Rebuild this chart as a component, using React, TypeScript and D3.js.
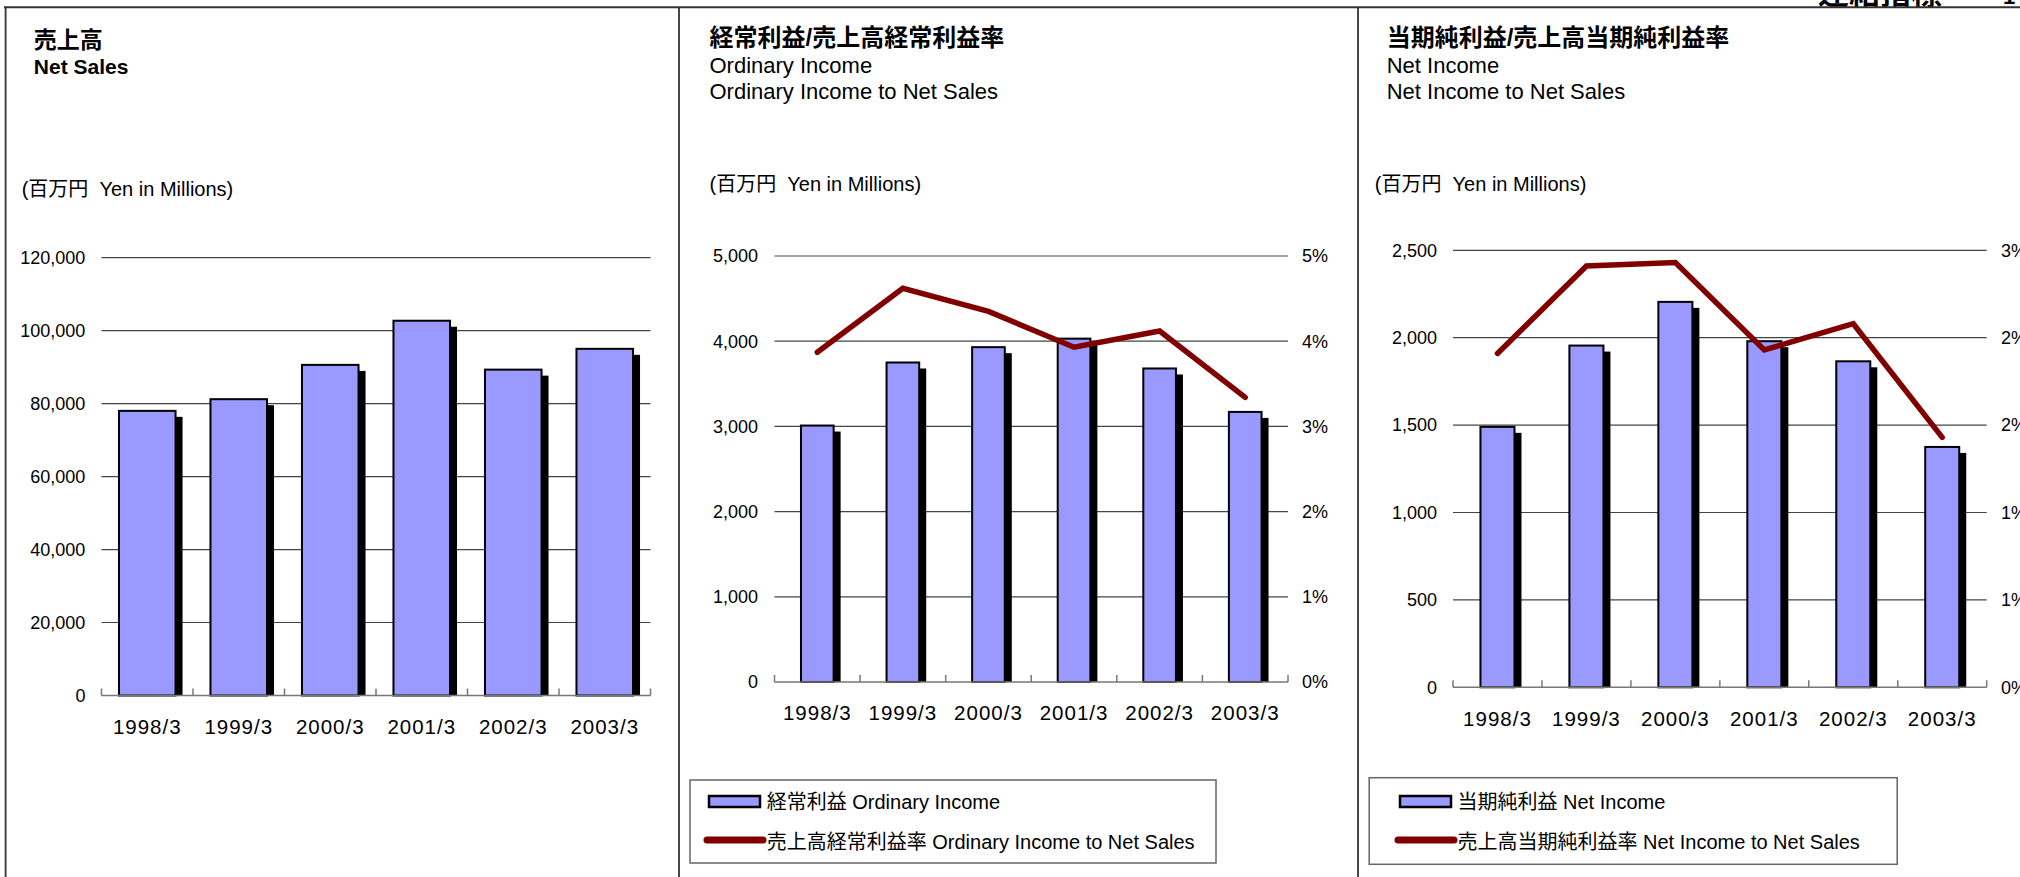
import React from "react";
import * as d3 from "d3";

const categories = ["1998/3", "1999/3", "2000/3", "2001/3", "2002/3", "2003/3"];
const netSales = [78000, 81200, 90600, 102700, 89300, 95000];
const ordinaryIncome = [3010, 3750, 3930, 4030, 3680, 3170];
const ordinaryRatio = [3.87, 4.62, 4.35, 3.93, 4.12, 3.34];
const netIncome = [1490, 1955, 2205, 1980, 1865, 1375];
const netRatio = [1.91, 2.41, 2.43, 1.93, 2.08, 1.43];

const salesTicks = [0, 20000, 40000, 60000, 80000, 100000, 120000];
const ordinaryTicks = [0, 1000, 2000, 3000, 4000, 5000];
const ordinaryRatioTicks = [0, 1, 2, 3, 4, 5];
const netTicks = [0, 500, 1000, 1500, 2000, 2500];
const netRatioTicks = [0, 0.5, 1, 1.5, 2, 2.5];

const FONT = "'Liberation Sans', Arial, 'Noto Sans CJK JP', sans-serif";
const BAR = "#9999FF";
const LINE = "#800000";

type PanelProps = {
  x0: number; x1: number; yTop: number; yBottom: number;
  leftLabelX: number; rightLabelX?: number; catBaseline: number; barRatio: number;
  ticks: number[]; values: number[];
  ratio?: number[]; ratioTicks?: number[];
};

function Panel(p: PanelProps) {
  const yMax = p.ticks[p.ticks.length - 1];
  const y = d3.scaleLinear().domain([0, yMax]).range([p.yBottom, p.yTop]);
  const x = d3.scaleBand<string>().domain(categories).range([p.x0, p.x1]).padding(0);
  const bw = x.bandwidth();
  const w = bw * p.barRatio;
  const cx = (c: string) => (x(c) as number) + bw / 2;
  const fmt = d3.format(",");
  let yr: d3.ScaleLinear<number, number> | null = null;
  let linePath: string | null = null;
  if (p.ratio && p.ratioTicks) {
    const rMax = p.ratioTicks[p.ratioTicks.length - 1];
    yr = d3.scaleLinear().domain([0, rMax]).range([p.yBottom, p.yTop]);
    const yrr = yr;
    linePath = d3.line<number>()
      .x((_, i) => cx(categories[i]))
      .y((d) => yrr(d))(p.ratio);
  }
  const boundaries = [...categories.map((c) => x(c) as number), p.x1];
  return (
    <g>
      {p.ticks.filter((t) => t > 0).map((t) => (
        <line key={"g" + t} x1={p.x0} x2={p.x1} y1={y(t)} y2={y(t)} stroke="#444" strokeWidth={1.2} />
      ))}
      {p.ticks.map((t) => (
        <text key={"l" + t} x={p.leftLabelX} y={y(t)} dy="0.35em" textAnchor="end" fontSize={18} fontFamily={FONT}>{fmt(t)}</text>
      ))}
      {yr && p.ratioTicks && p.ratioTicks.map((t) => (
        <text key={"r" + t} x={p.rightLabelX} y={(yr as any)(t)} dy="0.35em" textAnchor="start" fontSize={18} fontFamily={FONT}>{Math.round(t) + "%"}</text>
      ))}
      {categories.map((c, i) => (
        <rect key={"s" + c} x={cx(c) - w / 2 + 6} y={y(p.values[i]) + 6} width={w} height={p.yBottom - y(p.values[i]) - 6} fill="#000" />
      ))}
      {categories.map((c, i) => (
        <rect key={"b" + c} x={cx(c) - w / 2 + 1} y={y(p.values[i])} width={w - 2} height={p.yBottom - y(p.values[i])} fill={BAR} stroke="#000" strokeWidth={2} />
      ))}
      <line x1={p.x0} x2={p.x1} y1={p.yBottom} y2={p.yBottom} stroke="#777" strokeWidth={1.5} />
      {boundaries.map((b, i) => (
        <line key={"t" + i} x1={b} x2={b} y1={p.yBottom} y2={p.yBottom - 7} stroke="#777" strokeWidth={1.5} />
      ))}
      {categories.map((c) => (
        <text key={"c" + c} x={cx(c)} y={p.catBaseline} textAnchor="middle" fontSize={20.5} letterSpacing={1} fontFamily={FONT}>{c}</text>
      ))}
      {linePath && (
        <path d={linePath} fill="none" stroke={LINE} strokeWidth={5.5} strokeLinecap="round" strokeLinejoin="miter" />
      )}
    </g>
  );
}

function Legend(props: { x: number; y: number; w: number; h: number; sx: number; tx: number; barLabel: string; lineLabel: string }) {
  const { x, y, w, h, sx, tx } = props;
  return (
    <g fontFamily={FONT} fontSize={20}>
      <rect x={x} y={y} width={w} height={h} fill="#fff" stroke="#666" strokeWidth={1.5} />
      <rect x={sx + 2} y={796} width={51} height={11} fill={BAR} stroke="#000" strokeWidth={2.5} />
      <text x={tx} y={808.5}>{props.barLabel}</text>
      <line x1={sx} x2={sx + 56} y1={840} y2={840} stroke={LINE} strokeWidth={7} strokeLinecap="round" />
      <text x={tx} y={848.5}>{props.lineLabel}</text>
    </g>
  );
}

export default function App() {
  return (
    <svg width={2020} height={877} style={{ position: "absolute", left: 0, top: 0, background: "#fff" }}>
      <rect x={0} y={0} width={2020} height={877} fill="#fff" />
      {/* cut-off header text */}
      <text x={1818} y={3.5} fontSize={31} fontWeight="bold" fontFamily={FONT}>連結指標</text>
      <text x={2003} y={3.5} fontSize={22} fontWeight="bold" fontFamily={FONT}>1</text>
      {/* frame */}
      <line x1={4} x2={2020} y1={7.3} y2={7.3} stroke="#333" strokeWidth={2} />
      <line x1={5.6} x2={5.6} y1={7} y2={877} stroke="#333" strokeWidth={1.8} />
      <line x1={679} x2={679} y1={7} y2={877} stroke="#333" strokeWidth={1.8} />
      <line x1={1358} x2={1358} y1={7} y2={877} stroke="#333" strokeWidth={1.8} />

      {/* Panel 1 titles */}
      <text x={33.8} y={48} fontSize={23} fontWeight="bold" fontFamily={FONT}>売上高</text>
      <text x={33.8} y={74} fontSize={21} fontWeight="bold" fontFamily={FONT}>Net Sales</text>
      <text x={21.7} y={196} fontSize={20} fontFamily={FONT} xmlSpace="preserve">(百万円  Yen in Millions)</text>

      {/* Panel 2 titles */}
      <text x={709.5} y={46} fontSize={24} fontWeight="bold" fontFamily={FONT}>経常利益/売上高経常利益率</text>
      <text x={709.5} y={73} fontSize={22} fontFamily={FONT}>Ordinary Income</text>
      <text x={709.5} y={99.3} fontSize={22} fontFamily={FONT}>Ordinary Income to Net Sales</text>
      <text x={709.5} y={191} fontSize={20} fontFamily={FONT} xmlSpace="preserve">(百万円  Yen in Millions)</text>

      {/* Panel 3 titles */}
      <text x={1386.7} y={46} fontSize={24} fontWeight="bold" fontFamily={FONT}>当期純利益/売上高当期純利益率</text>
      <text x={1386.7} y={73} fontSize={22} fontFamily={FONT}>Net Income</text>
      <text x={1386.7} y={99.3} fontSize={22} fontFamily={FONT}>Net Income to Net Sales</text>
      <text x={1374.8} y={191} fontSize={20} fontFamily={FONT} xmlSpace="preserve">(百万円  Yen in Millions)</text>

      <Panel x0={101.5} x1={650.5} yTop={257.6} yBottom={695.5} leftLabelX={85.4} catBaseline={734}
        barRatio={0.64} ticks={salesTicks} values={netSales} />
      <Panel x0={774.5} x1={1288} yTop={256} yBottom={682} leftLabelX={758} rightLabelX={1302} catBaseline={719.5}
        barRatio={0.405} ticks={ordinaryTicks} values={ordinaryIncome} ratio={ordinaryRatio} ratioTicks={ordinaryRatioTicks} />
      <Panel x0={1453} x1={1986.7} yTop={250.3} yBottom={687.3} leftLabelX={1437} rightLabelX={2001} catBaseline={725.5}
        barRatio={0.405} ticks={netTicks} values={netIncome} ratio={netRatio} ratioTicks={netRatioTicks} />

      <Legend x={690} y={780} w={526} h={83} sx={707} tx={766.7}
        barLabel="経常利益 Ordinary Income" lineLabel="売上高経常利益率 Ordinary Income to Net Sales" />
      <Legend x={1369.2} y={777.7} w={528} h={86.6} sx={1398} tx={1457.5}
        barLabel="当期純利益 Net Income" lineLabel="売上高当期純利益率 Net Income to Net Sales" />
    </svg>
  );
}
